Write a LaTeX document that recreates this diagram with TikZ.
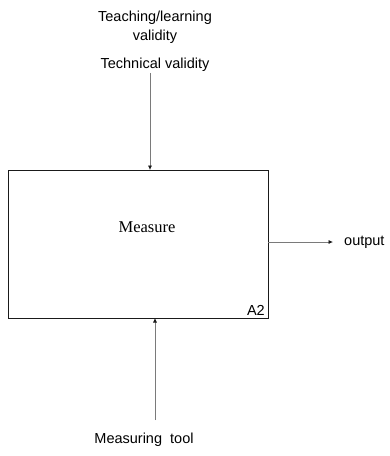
\documentclass[tikz,border=0pt]{standalone}
\usepackage{fontspec}
\setmainfont{Liberation Serif}
\setsansfont{Liberation Sans}
\usetikzlibrary{arrows.meta,positioning}
\definecolor{Ink}{HTML}{1A1A1A}
\definecolor{Wire}{HTML}{7A7A7A}
\tikzset{
  actbox/.style={
    draw=Ink, line width=0.9pt, minimum width=260pt, minimum height=148pt,
    inner sep=0pt
  },
  tag/.style={
    font=\sffamily\fontsize{14.5}{19}\selectfont, align=center, inner sep=1pt
  },
  boxname/.style={font=\rmfamily\fontsize{16.5}{18}\selectfont, inner sep=1pt},
  wire/.style={-{Latex[length=4.5pt,width=4pt,color=Ink]}, line width=0.7pt, draw=Wire}
}

\begin{document}
\begin{tikzpicture}[x=1pt,y=-1pt]
    \useasboundingbox (0,0) rectangle (389,456);
    \node[actbox] (measure) at (138,244) {};
    \node[boxname] (name) at (147,227) {Measure};
    \node[tag,anchor=south east] (a2) at (266,317) {A2};
    \node[tag] (teach) at (155,27) {Teaching/learning\\validity};
    \node[tag] (tech) at (155,65) {Technical validity};
    \node[tag,anchor=west] (out) at (343,242) {output};
    \node[tag] (tool) at (144,440) {Measuring\ \ tool};
    \coordinate (ctl) at (150,170);
    \coordinate (mech) at (155,318);
    \coordinate (mechin) at (155,420);
    \coordinate (outstart) at (268,242);
    \draw[wire] (tech.south -| ctl) -- (ctl);
    \draw[wire] (mechin) -- (mech);
    \draw[wire] (outstart) -- ([xshift=-10pt]out.west);
  \end{tikzpicture}
\end{document}
